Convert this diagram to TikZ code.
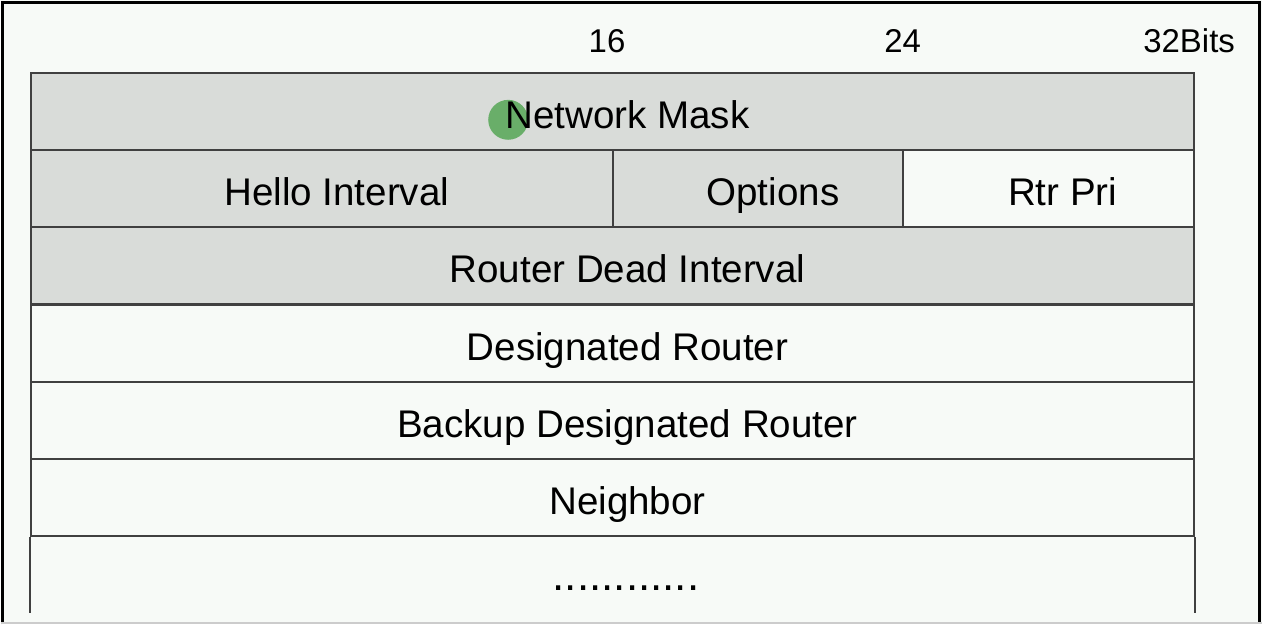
\documentclass[tikz,border=0pt]{standalone}
\usepackage{fontspec}
\setmainfont{Liberation Sans}
\definecolor{cellgray}{HTML}{D9DCD9}
\definecolor{pagebg}{HTML}{F7FAF7}
\definecolor{rulecol}{HTML}{404040}
\definecolor{cursor}{HTML}{5DAA5D}

\begin{document}
\begin{tikzpicture}[x=0.5pt, y=-0.5pt,
  every node/.style = {inner sep=0pt, font=\fontsize{19.3}{23}\selectfont},
  field/.style = {draw=rulecol, line width=1pt, fill=#1,
    minimum height=38.65pt},
  field/.default = cellgray,
  fieldname/.style = {xshift=7.5pt, text height=19pt, text depth=2.1pt},
  bits/.style = {font=\fontsize{16.5}{20}\selectfont, text height=11.9pt, text depth=0pt}]
  % page and frame
  \fill[pagebg] (0,0) rectangle (1263,625);
  \draw[black, line width=1.5pt] (2,625) -- (2,2.5) -- (1260,2.5) -- (1260,625);
  \draw[gray!40, line width=1pt] (0,623.5) -- (1263,623.5);

  % bit marks
  \node[bits] (b16) at (607,41) {16};
  \node[bits] (b24) at (903,41) {24};
  \node[bits] (b32) at (1190,41) {32Bits};

  % fields
  \node[field, minimum width=582.5pt] (mask) at (612.5,111.7) {};
  \node[field, minimum width=291.25pt] (hello) at (321.25,189) {};
  \node[field, minimum width=145.6pt] (opts) at (758.1,189) {};
  \node[field=pagebg, minimum width=145.6pt] (pri) at (1049.4,189) {};
  \node[field, minimum width=582.5pt] (dead) at (612.5,266.3) {};
  \node[field=pagebg, minimum width=582.5pt] (dr) at (612.5,343.7) {};
  \node[field=pagebg, minimum width=582.5pt] (bdr) at (612.5,421) {};
  \node[field=pagebg, minimum width=582.5pt] (nbr) at (612.5,498.3) {};
  \coordinate (endl) at ([yshift=-38pt]nbr.south west);
  \coordinate (endr) at ([yshift=-38pt]nbr.south east);
  \draw[rulecol, line width=1pt] (nbr.south west) -- (endl);
  \draw[rulecol, line width=1pt] (nbr.south east) -- (endr);

  % pointer mark
  \fill[cursor, opacity=0.9] (508,120) circle[radius=10pt];

  % field names
  \node[fieldname] (mask-t) at (mask) {Network Mask};
  \node[fieldname] (hello-t) at (hello) {Hello Interval};
  \node[fieldname] (opts-t) at (opts) {Options};
  \node[fieldname, xshift=-0.5pt] (pri-t) at (pri) {Rtr Pri};
  \node[fieldname] (dead-t) at (dead) {Router Dead Interval};
  \node[fieldname] (dr-t) at (dr) {Designated Router};
  \node[fieldname] (bdr-t) at (bdr) {Backup Designated Router};
  \node[fieldname] (nbr-t) at (nbr) {Neighbor};
  \node[anchor=base, font=\fontsize{22}{26}\selectfont] (more) at (626,591) {............};
\end{tikzpicture}
\end{document}
